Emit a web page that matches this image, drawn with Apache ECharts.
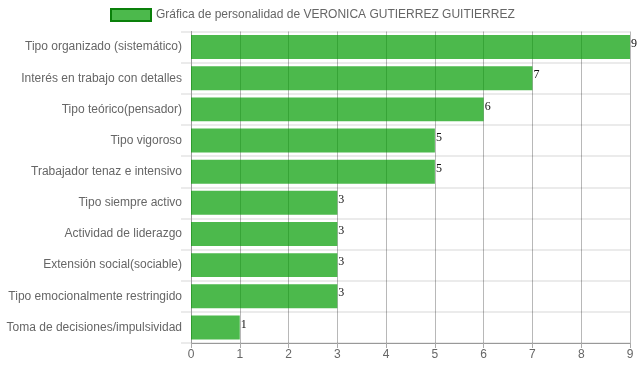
<!DOCTYPE html>
<html>
<head>
<meta charset="utf-8">
<script src="https://cdn.jsdelivr.net/npm/echarts@6/dist/echarts.min.js"></script>
<style>html,body{margin:0;padding:0;background:#fff}#c{width:637px;height:371px}</style>
</head>
<body>
<div id="c"></div>
<script>
const categories = ['Tipo organizado (sistemático)', 'Interés en trabajo con detalles', 'Tipo teórico(pensador)', 'Tipo vigoroso', 'Trabajador tenaz e intensivo', 'Tipo siempre activo', 'Actividad de liderazgo', 'Extensión social(sociable)', 'Tipo emocionalmente restringido', 'Toma de decisiones/impulsividad'];
const values = [9, 7, 6, 5, 5, 3, 3, 3, 3, 1];
const seriesName = 'Gráfica de personalidad de VERONICA GUTIERREZ GUITIERREZ';
const xTicks = [0, 1, 2, 3, 4, 5, 6, 7, 8, 9];

const chart = echarts.init(document.getElementById('c'), null, {renderer: 'canvas'});
chart.setOption({
  animation: false,
  textStyle: {fontFamily: '"Liberation Sans", Arial, sans-serif'},
  legend: {
    top: 3,
    left: 105,
    icon: 'rect',
    itemWidth: 40,
    itemHeight: 12,
    itemGap: 10,
    itemStyle: {borderColor: '#0a800a', borderWidth: 2},
    textStyle: {color: '#666', fontSize: 12, fontFamily: '"Liberation Sans", Arial, sans-serif'},
    data: [seriesName]
  },
  grid: {left: 191, right: 7, top: 31.5, bottom: 28, containLabel: false},
  xAxis: {
    type: 'value',
    min: xTicks[0],
    max: xTicks[xTicks.length - 1],
    interval: 1,
    axisLine: {show: true, lineStyle: {color: '#999', width: 1}},
    axisTick: {show: true, length: 5, lineStyle: {color: '#aaa'}},
    splitLine: {show: true, lineStyle: {color: 'rgba(0,0,0,0.28)', width: 1}},
    axisLabel: {color: '#666', fontSize: 12, margin: 6, fontFamily: '"Liberation Sans", Arial, sans-serif'}
  },
  yAxis: {
    type: 'category',
    inverse: true,
    data: categories,
    axisLine: {show: true, lineStyle: {color: '#999', width: 1}},
    axisTick: {show: true, length: 10, lineStyle: {color: '#ebebeb', width: 2}},
    splitLine: {show: true, lineStyle: {color: '#ebebeb', width: 2}},
    axisLabel: {color: '#666', fontSize: 12, margin: 9, fontFamily: '"Liberation Sans", Arial, sans-serif'}
  },
  series: [{
    name: seriesName,
    type: 'bar',
    data: values,
    barCategoryGap: '23%',
    itemStyle: {color: 'rgba(0,155,0,0.7)'},
    label: {
      show: true,
      position: ['100%', 0],
      offset: [1, 3],
      color: '#111',
      fontSize: 12,
      fontFamily: '"Liberation Serif", "Times New Roman", serif'
    }
  }]
});
</script>
</body>
</html>
